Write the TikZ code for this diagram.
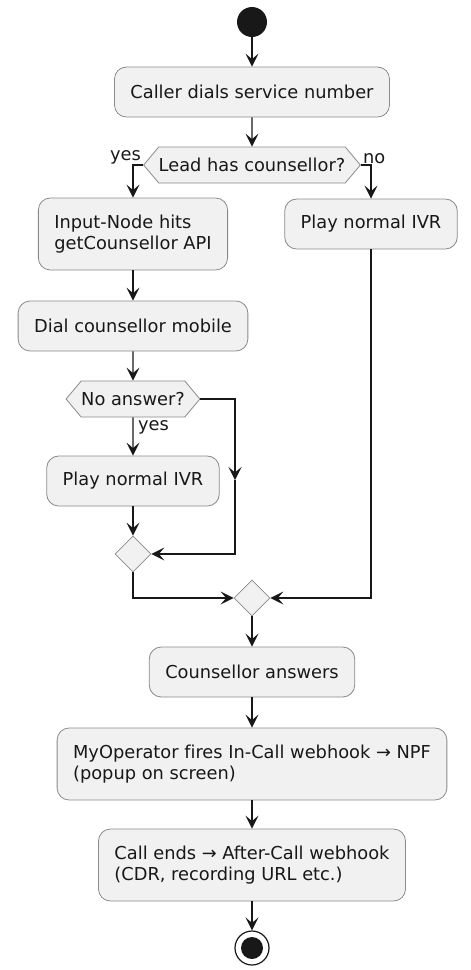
\documentclass[tikz,border=0pt]{standalone}
\usepackage{fontspec}
\setmainfont{DejaVu Sans}[Ligatures={NoCommon}]
\usepackage{tikz}
\usetikzlibrary{arrows.meta,positioning,calc,shapes.geometric,shapes.symbols}
\definecolor{Ink}{HTML}{181818}
\definecolor{Edge}{HTML}{8A8A8A}
\definecolor{BoxFill}{HTML}{F1F1F1}
\tikzset{
  act/.style={draw=Edge,line width=0.8pt,fill=BoxFill,rounded corners=12pt,minimum height=50pt,inner xsep=16pt,text=Ink,font=\fontsize{17.8}{21.5}\selectfont},
  actTwo/.style={act,align=left,minimum height=72pt},
  decide/.style={draw=Edge,line width=0.8pt,fill=BoxFill,shape=signal,signal to=west and east,signal pointer angle=100,minimum height=36pt,inner xsep=0pt,inner ysep=0pt,text=Ink,font=\fontsize{17.8}{21.5}\selectfont},
  merge/.style={draw=Edge,line width=0.8pt,fill=BoxFill,diamond,minimum size=36pt,inner sep=0pt},
  guard/.style={text=Ink,inner sep=1pt,font=\fontsize{17.8}{21.5}\selectfont},
  flowline/.style={draw=Ink,line width=1.3pt},
  flowarrow/.style={flowline,-{Stealth[length=13pt,width=13pt,inset=5.5pt]}}
}

\begin{document}
\begin{tikzpicture}[x=1pt,y=-1pt]
  \useasboundingbox (0,0) rectangle (471,970);
  % start and main actions
  \node[circle,fill=Ink,minimum size=30pt,inner sep=0pt] (start) at (252,22) {};
  \node[act] (caller) at (252,92) {Caller dials service number};
  \node[decide] (lead) at (252,165) {Lead has counsellor?};
  \node[guard,anchor=south east] (leadyes) at ([xshift=-1pt]lead.west) {yes};
  \node[guard,anchor=south west] (leadno) at ([xshift=1pt]lead.east) {no};
  % yes branch
  \node[actTwo] (inputnode) at (133,234) {Input-Node hits\\getCounsellor API};
  \node[act] (dial) at (133,326) {Dial counsellor mobile};
  \node[decide] (noanswer) at (133,399) {No answer?};
  \node[guard,anchor=north west] (noyes) at ([xshift=4pt,yshift=-2pt]noanswer.south) {yes};
  \node[act] (playleft) at (133,481) {Play normal IVR};
  \node[merge] (mergeleft) at (133,554) {};
  \coordinate (bypass) at (235,480);
  % no branch
  \node[act] (playright) at (371,224) {Play normal IVR};
  % joined flow
  \node[merge] (mergemain) at (252,598) {};
  \node[act] (answers) at (252,672) {Counsellor answers};
  \node[actTwo] (webhook) at (252,764) {MyOperator fires In-Call webhook → NPF\\(popup on screen)};
  \node[actTwo] (callend) at (252,865) {Call ends → After-Call webhook\\(CDR, recording URL etc.)};
  \node[circle,draw=Ink,line width=1.2pt,fill=white,minimum size=34pt,inner sep=0pt,
    path picture={\fill[Ink] (path picture bounding box.center) circle (11pt);}] (stop) at (252,948) {};

  \draw[flowarrow] (start) -- (caller);
  \draw[flowarrow] (caller) -- (lead);
  \draw[flowarrow] (lead.west) -| (inputnode.north);
  \draw[flowarrow] (lead.east) -| (playright.north);
  \draw[flowarrow] (inputnode) -- (dial);
  \draw[flowarrow] (dial) -- (noanswer);
  \draw[flowarrow] (noanswer) -- (playleft);
  \draw[flowarrow] (noanswer.east) -| (bypass);
  \draw[flowarrow] (bypass) |- (mergeleft.east);
  \draw[flowarrow] (playleft) -- (mergeleft);
  \draw[flowarrow] (mergeleft.south) |- (mergemain.west);
  \draw[flowarrow] (playright.south) |- (mergemain.east);
  \draw[flowarrow] (mergemain) -- (answers);
  \draw[flowarrow] (answers) -- (webhook);
  \draw[flowarrow] (webhook) -- (callend);
  \draw[flowarrow] (callend) -- (stop);
\end{tikzpicture}
\end{document}
